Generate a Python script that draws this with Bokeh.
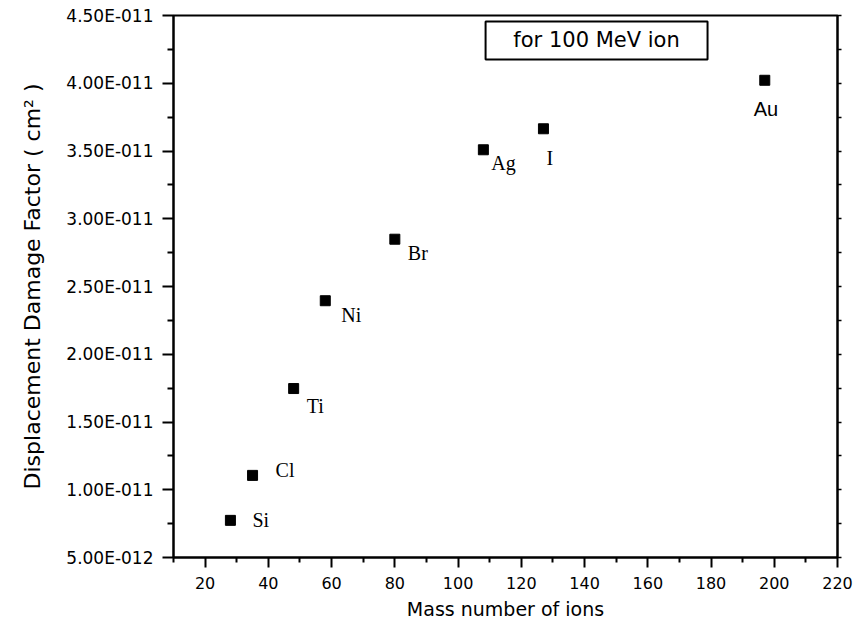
from bokeh.plotting import figure
from bokeh.models import (ColumnDataSource, LinearAxis, FixedTicker, Range1d,
                          BoxAnnotation, Label, CustomJSTickFormatter)
from bokeh.embed import file_html
from bokeh.resources import INLINE

# ---------------- data ----------------
ion_names = ["Si", "Cl", "Ti", "Ni", "Br", "Ag", "I", "Au"]
mass_numbers = [28, 35, 48, 58, 80, 108, 127, 197]
damage_factor = [7.74e-12, 1.106e-11, 1.747e-11, 2.395e-11, 2.849e-11,
                 3.509e-11, 3.664e-11, 4.022e-11]

x_ticks = [20, 40, 60, 80, 100, 120, 140, 160, 180, 200, 220]
x_minor_ticks = [10, 30, 50, 70, 90, 110, 130, 150, 170, 190, 210]
y_ticks = [5e-12, 1e-11, 1.5e-11, 2e-11, 2.5e-11, 3e-11, 3.5e-11, 4e-11, 4.5e-11]
y_tick_labels = ["5.00E-012", "1.00E-011", "1.50E-011", "2.00E-011", "2.50E-011",
                 "3.00E-011", "3.50E-011", "4.00E-011", "4.50E-011"]

x_title = "Mass number of ions"
y_title = "Displacement Damage Factor ( cm\u00b2 )"
box_text = "for 100 MeV ion"

# ---------------- styles (label offsets in px) ----------------
label_dx = [22, 23, 13, 16, 13, 8, 3, -11]
label_dy = [0, -5, 17, 14, 14, 13, 29, 29]
label_fonts = ["Liberation Serif"] * 7 + ["Liberation Sans"]

y_minor = [(a + b) / 2 for a, b in zip(y_ticks[:-1], y_ticks[1:])]

p = figure(width=856, height=628, output_backend="svg", toolbar_location=None,
           x_range=Range1d(10, 220), y_range=Range1d(5e-12, 4.5e-11),
           min_border_left=173, min_border_right=19, min_border_top=15,
           min_border_bottom=71, x_axis_location=None, y_axis_location=None)
p.xgrid.visible = False
p.ygrid.visible = False
p.outline_line_color = "black"
p.outline_line_width = 2
p.background_fill_color = "white"
p.border_fill_color = "white"

# bottom axis
xa = LinearAxis(ticker=FixedTicker(ticks=x_ticks, minor_ticks=x_minor_ticks),
                axis_label=x_title)
xa.axis_line_width = 2
xa.major_tick_line_width = 2
xa.minor_tick_line_width = 2
xa.major_tick_in = 0
xa.major_tick_out = 10
xa.minor_tick_in = 0
xa.minor_tick_out = 5
xa.major_label_standoff = 9
xa.major_label_text_font = "DejaVu Sans"
xa.major_label_text_font_size = "16px"
xa.major_label_text_color = "black"
xa.axis_label_text_font = "DejaVu Sans"
xa.axis_label_text_font_size = "19px"
xa.axis_label_text_font_style = "normal"
xa.axis_label_text_color = "black"
xa.axis_label_standoff = 6
p.add_layout(xa, "below")

# left axis
ya = LinearAxis(ticker=FixedTicker(ticks=y_ticks, minor_ticks=y_minor),
                axis_label=y_title)
ya.major_label_overrides = dict(zip(y_ticks, y_tick_labels))
ya.axis_line_width = 2
ya.major_tick_line_width = 2
ya.minor_tick_line_width = 2
ya.major_tick_in = 0
ya.major_tick_out = 11
ya.minor_tick_in = 0
ya.minor_tick_out = 6
ya.major_label_standoff = 9
ya.major_label_text_font = "DejaVu Sans"
ya.major_label_text_font_size = "17px"
ya.major_label_text_color = "black"
ya.axis_label_text_font = "DejaVu Sans"
ya.axis_label_text_font_size = "22px"
ya.axis_label_text_font_style = "normal"
ya.axis_label_text_color = "black"
ya.axis_label_standoff = 18
p.add_layout(ya, "left")

# right axis: ticks only
ra = LinearAxis(ticker=FixedTicker(ticks=y_ticks, minor_ticks=y_minor),
                formatter=CustomJSTickFormatter(code="return ''"))
ra.axis_line_width = 2
ra.major_tick_line_width = 1.5
ra.minor_tick_line_width = 1.5
ra.major_tick_in = 0
ra.major_tick_out = 4
ra.minor_tick_in = 0
ra.minor_tick_out = 4
ra.major_label_standoff = 0
p.add_layout(ra, "right")

src = ColumnDataSource(dict(x=mass_numbers, y=damage_factor, name=ion_names,
                            dx=label_dx, dy=label_dy, font=label_fonts))
p.scatter("x", "y", source=src, marker="square", size=10,
          fill_color="black", line_color="black")
p.text("x", "y", text="name", source=src, x_offset="dx", y_offset="dy",
       text_font="font", text_font_size="20px", text_align="left",
       text_baseline="middle", text_color="black")

# annotation box
box = BoxAnnotation(left=108.7, right=178.9, bottom=4.175e-11, top=4.456e-11,
                    fill_alpha=0, line_color="black", line_width=2, line_alpha=1)
p.add_layout(box)
p.add_layout(Label(x=143.8, y=4.3155e-11, text=box_text, text_align="center",
                   text_baseline="middle", text_font="DejaVu Sans",
                   text_font_size="21px", text_color="black"))

open("out.html", "w").write(file_html(p, INLINE))
